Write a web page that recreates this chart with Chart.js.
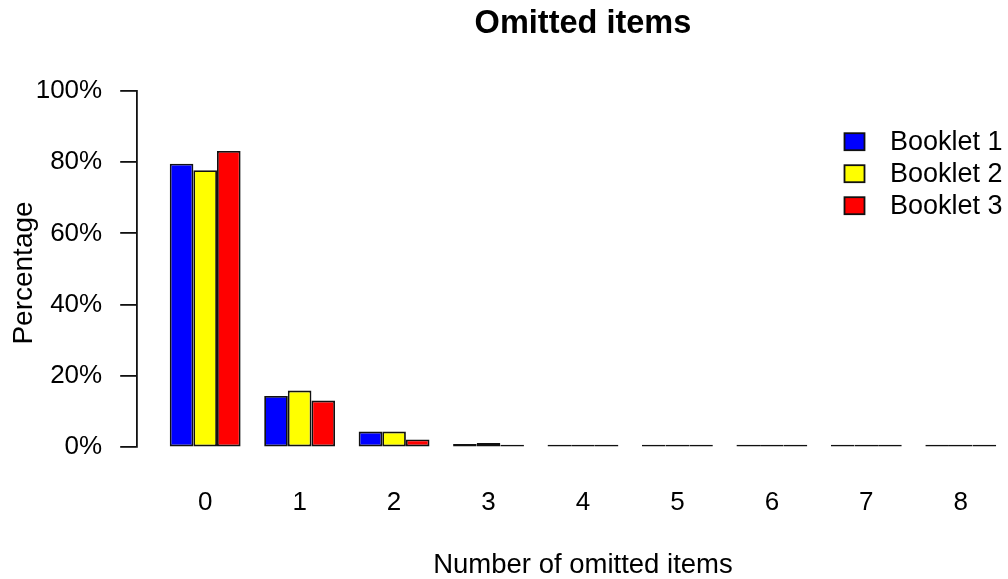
<!DOCTYPE html>
<html>
<head>
<meta charset="utf-8">
<title>Omitted items</title>
<script src="https://cdn.jsdelivr.net/npm/chart.js@4.4.1/dist/chart.umd.min.js"></script>
<style>
    html, body { margin: 0; padding: 0; background: #fff; }
    #wrap { width: 1008px; height: 579px; position: relative; }
</style>
</head>
<body>
<div id="wrap"><canvas id="omittedChart"></canvas></div>
<script>
const categories = ['0', '1', '2', '3', '4', '5', '6', '7', '8'];
const booklet1 = [79.5, 14.4, 4.4, 0.9, 0.1, 0, 0, 0, 0];
const booklet2 = [77.7, 15.9, 4.4, 1.2, 0.3, 0, 0, 0, 0];
const booklet3 = [83.1, 13.1, 2.2, 0.7, 0.3, 0, 0, 0, 0];
const seriesNames = ['Booklet 1', 'Booklet 2', 'Booklet 3'];
const seriesColors = ['#0000ff', '#ffff00', '#ff0000'];
const yTicks = [0, 20, 40, 60, 80, 100];

const FONT = "'Liberation Sans', Arial, sans-serif";
const INK = '#111';

function toPoints(values) {
    return values.map((v, i) => ({ x: i, y: v }));
}

// title, axis titles and legend placed like the R plot region
const rDecorations = {
    id: 'rDecorations',
    afterDraw(chart) {
        const ctx = chart.ctx;
        const xScale = chart.scales.x;
        const midX = xScale.getPixelForValue((categories.length - 1) / 2);

        ctx.save();
        ctx.fillStyle = '#000';
        ctx.textAlign = 'center';
        ctx.textBaseline = 'alphabetic';

        ctx.font = `bold 32.5px ${FONT}`;
        ctx.fillText('Omitted items', midX, 33);

        ctx.font = `27.5px ${FONT}`;
        ctx.fillText('Number of omitted items', midX, 573);

        ctx.save();
        ctx.translate(32, 273);
        ctx.rotate(-Math.PI / 2);
        ctx.font = `28px ${FONT}`;
        ctx.fillText('Percentage', 0, 0);
        ctx.restore();

        // legend
        ctx.font = `27px ${FONT}`;
        ctx.textAlign = 'left';
        ctx.textBaseline = 'middle';
        chart.data.datasets.forEach((ds, i) => {
            const cy = 141.7 + i * 32;
            ctx.fillStyle = ds.backgroundColor;
            ctx.fillRect(844.5, cy - 8.5, 20, 17);
            ctx.strokeStyle = INK;
            ctx.lineWidth = 1.8;
            ctx.strokeRect(844.5, cy - 8.5, 20, 17);
            ctx.fillStyle = '#000';
            ctx.fillText(ds.label, 890, cy + 1);
        });
        ctx.restore();
    }
};

const datasets = [booklet1, booklet2, booklet3].map((values, i) => ({
    label: seriesNames[i],
    data: toPoints(values),
    backgroundColor: seriesColors[i],
    borderColor: INK,
    borderWidth: 1.8,
    borderSkipped: false,
    barPercentage: 1,
    categoryPercentage: 0.75,
    minBarLength: 2.5,
    clip: false
}));

new Chart(document.getElementById('omittedChart'), {
    type: 'bar',
    data: { datasets: datasets },
    options: {
        responsive: true,
        maintainAspectRatio: false,
        animation: false,
        layout: {
            padding: { top: 90.7, left: 0, right: 0, bottom: 0 }
        },
        plugins: {
            legend: { display: false },
            title: { display: false },
            tooltip: { enabled: false }
        },
        scales: {
            x: {
                type: 'linear',
                offset: false,
                min: -0.725,
                max: -0.725 + 871.3 / 95,
                afterBuildTicks: (scale) => {
                    scale.ticks = categories.map((c, i) => ({ value: i }));
                },
                afterFit: (scale) => {
                    scale.height = 579 - 447.3;
                },
                grid: { display: false, drawTicks: false, offset: false },
                border: { display: false },
                ticks: {
                    callback: (value, index) => categories[index],
                    color: '#000',
                    padding: 40,
                    maxRotation: 0,
                    font: { family: FONT, size: 26 }
                }
            },
            y: {
                min: 0,
                max: 100,
                afterBuildTicks: (scale) => {
                    scale.ticks = yTicks.map(v => ({ value: v }));
                },
                afterFit: (scale) => {
                    scale.width = 136.7;
                },
                grid: {
                    drawOnChartArea: false,
                    drawTicks: true,
                    tickLength: 16.5,
                    color: INK,
                    lineWidth: 1.8
                },
                border: { display: true, color: INK, width: 1.8 },
                ticks: {
                    callback: (value) => value + '%',
                    color: '#000',
                    padding: 18,
                    font: { family: FONT, size: 26 }
                }
            }
        }
    },
    plugins: [rDecorations]
});
</script>
</body>
</html>
